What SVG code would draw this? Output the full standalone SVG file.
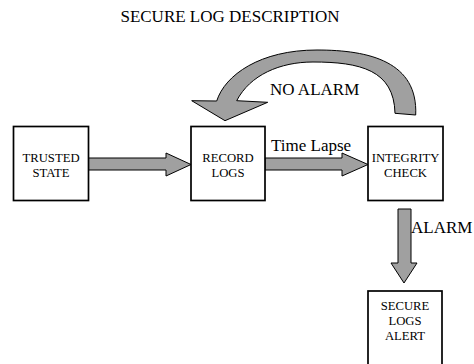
<svg xmlns="http://www.w3.org/2000/svg" width="474" height="364" viewBox="0 0 474 364">
<style>
.box{fill:#fff;stroke:#000;stroke-width:1.7}
.arr{fill:#a0a0a0;stroke:#000;stroke-width:1;stroke-linejoin:miter}
.bt{font-family:"Liberation Serif","Times New Roman",Times,"DejaVu Serif",serif;font-size:12.7px;text-anchor:middle;fill:#000}
.lt{font-family:"Liberation Serif","Times New Roman",Times,"DejaVu Serif",serif;font-size:17px;fill:#000}
</style>
<rect width="474" height="364" fill="#fff"/>
<text class="lt" x="230" y="22" text-anchor="middle">SECURE LOG DESCRIPTION</text>
<g id="connectors">
<path class="arr" d="M88.5,158 L166,158 L166,153 L191,164.5 L166,176 L166,170 L88.5,170 Z"/>
<path class="arr" d="M265,158 L342,158 L342,153 L368,164.5 L342,176 L342,170 L265,170 Z"/>
<path class="arr" d="M398,209 L411,209 L411,263 L417,263 L404,283 L391,263 L398,263 Z"/>
<path class="arr" d="M415.7,115 C418,62 370,50 317,50 C260,50 225,75 216.7,101 L191.7,100.7 L225,120.7 L267.7,102.3 L236.7,100.7 C250,75 280,62 313,62 C360,62 394,70 395,113.3 Z"/>
<text class="lt" x="271" y="151">Time Lapse</text>
<text class="lt" x="270" y="95">NO ALARM</text>
<text class="lt" x="411" y="233">ALARM</text>
</g>
<g id="trusted">
<rect class="box" x="13.5" y="126.5" width="75" height="74"/>
<text class="bt" x="51" y="162">TRUSTED</text>
<text class="bt" x="51" y="177">STATE</text>
</g>
<g id="record">
<rect class="box" x="191" y="126.5" width="74" height="74"/>
<text class="bt" x="228" y="162">RECORD</text>
<text class="bt" x="228" y="177">LOGS</text>
</g>
<g id="integrity">
<rect class="box" x="368" y="126.5" width="75" height="74"/>
<text class="bt" x="405.5" y="162">INTEGRITY</text>
<text class="bt" x="405.5" y="177">CHECK</text>
</g>
<g id="alert">
<rect class="box" x="368" y="291" width="74" height="80"/>
<text class="bt" x="405" y="309.5">SECURE</text>
<text class="bt" x="405" y="324.5">LOGS</text>
<text class="bt" x="405" y="339.5">ALERT</text>
</g>
</svg>
